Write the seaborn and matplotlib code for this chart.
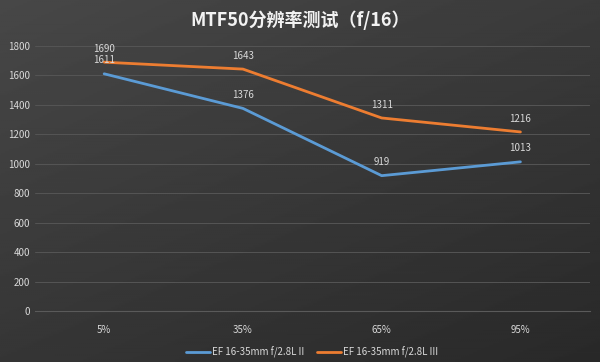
import numpy as np
import pandas as pd
import matplotlib
matplotlib.use('Agg')
import matplotlib.pyplot as plt
import seaborn as sns

# data
positions = ['5%', '35%', '65%', '95%']
lens_ii = [1611, 1376, 919, 1013]
lens_iii = [1690, 1643, 1311, 1216]
series_names = ['EF 16-35mm f/2.8L II', 'EF 16-35mm f/2.8L III']

df = pd.DataFrame({
    'pos': positions * 2,
    'mtf': lens_ii + lens_iii,
    'lens': [series_names[0]] * 4 + [series_names[1]] * 4,
})

sns.set_style('dark')
plt.rcParams['font.family'] = ['Noto Sans CJK SC', 'DejaVu Sans']

fig = plt.figure(figsize=(6, 3.62), dpi=100)

# background gradient
bg = fig.add_axes([0, 0, 1, 1], zorder=-10)
yy, xx = np.mgrid[0:1:200j, 0:1:300j]
grad = 0.28 - 0.07 * yy - 0.05 * xx
bg.imshow(grad, cmap='gray', vmin=0, vmax=1, aspect='auto', extent=[0, 1, 0, 1])
bg.axis('off')

ax = fig.add_axes([0.058, 0.141, 0.925, 0.732])
ax.set_facecolor('none')

palette = {series_names[0]: '#5b9bd5', series_names[1]: '#ed7d31'}
sns.lineplot(data=df, x='pos', y='mtf', hue='lens', palette=palette, linewidth=2, ax=ax, sort=False)

ax.set_xlim(-0.5, 3.5)
ax.set_ylim(0, 1800)
ax.set_yticks(range(0, 1801, 200))
ax.grid(axis='y', color='#555555', linewidth=0.7)
ax.grid(axis='x', visible=False)
for s in ax.spines.values():
    s.set_visible(False)
ax.spines['bottom'].set_visible(True)
ax.spines['bottom'].set_color('#5a5a5a')
ax.tick_params(colors='#d9d9d9', labelsize=7, length=0)
ax.tick_params(axis='x', pad=10)
ax.set_xlabel('')
ax.set_ylabel('')

for i, p in enumerate(positions):
    ax.annotate(str(lens_ii[i]), (i, lens_ii[i]), xytext=(0, 6), textcoords='offset points',
                ha='center', va='bottom', color='#d9d9d9', fontsize=7)
    ax.annotate(str(lens_iii[i]), (i, lens_iii[i]), xytext=(0, 6), textcoords='offset points',
                ha='center', va='bottom', color='#d9d9d9', fontsize=7)

ax.legend(loc='upper center', bbox_to_anchor=(0.5, -0.1), ncol=2, frameon=False,
          fontsize=7, labelcolor='#d9d9d9', handlelength=2.5, handletextpad=0.2, columnspacing=1.3)

fig.text(0.5, 0.945, 'MTF50分辨率测试（f/16）', ha='center', va='center',
         color='#f2f2f2', fontsize=13, fontweight='bold')

fig.savefig('out.png', dpi=100)
